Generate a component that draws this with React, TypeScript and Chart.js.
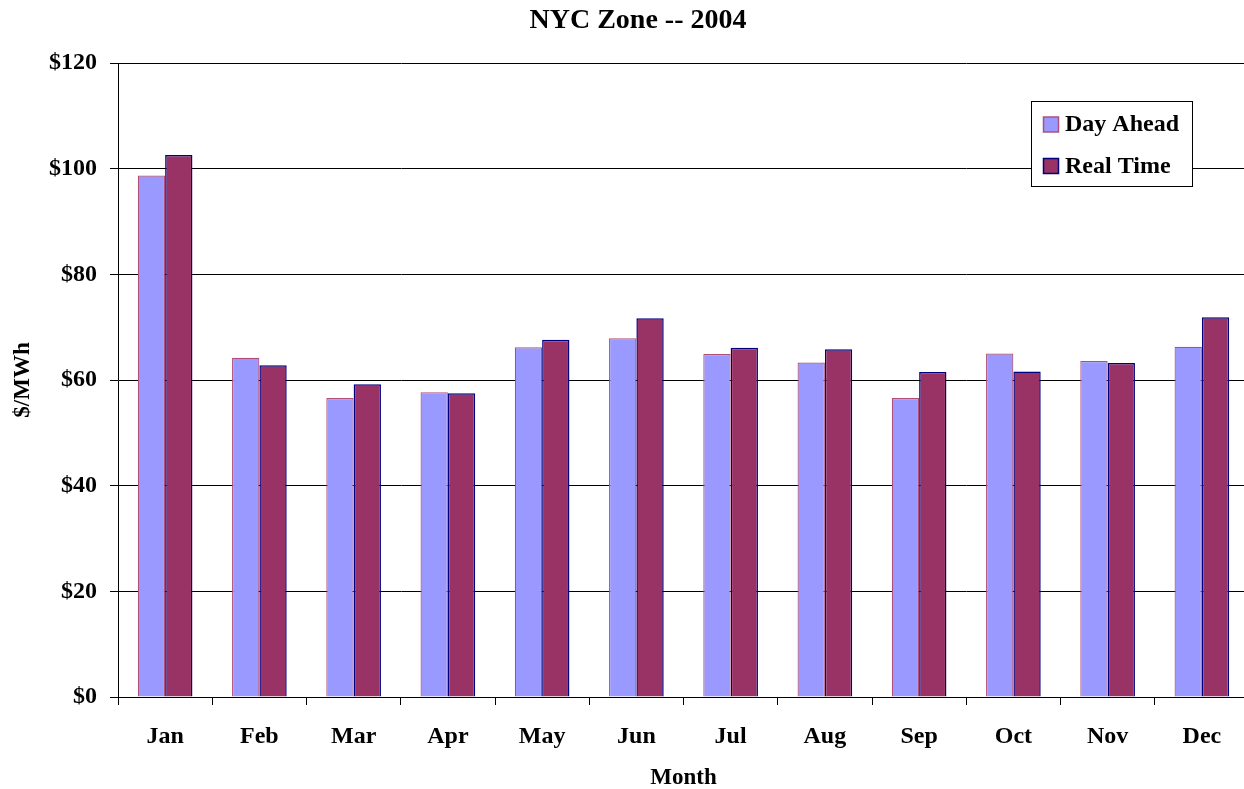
import React, { useEffect, useRef } from "react";
import { Chart, registerables } from "chart.js";

Chart.register(...registerables);

const months = ["Jan", "Feb", "Mar", "Apr", "May", "Jun", "Jul", "Aug", "Sep", "Oct", "Nov", "Dec"];
const dayAhead = [98.7, 64.2, 56.6, 57.7, 66.2, 67.9, 64.9, 63.3, 56.6, 65.0, 63.6, 66.3];
const realTime = [102.6, 62.8, 59.2, 57.5, 67.6, 71.7, 66.1, 65.8, 61.5, 61.6, 63.2, 71.9];
const seriesLabels = ["Day Ahead", "Real Time"];
const chartTitle = "NYC Zone -- 2004";
const xTitle = "Month";
const yTitle = "$/MWh";

const FONT = '"Liberation Serif", "Times New Roman", serif';

const titleAndLegend = {
  id: "titleAndLegend",
  afterDraw(chart: any) {
    const ctx = chart.ctx;
    ctx.save();
    // title
    ctx.fillStyle = "#000";
    ctx.font = `bold 28px ${FONT}`;
    ctx.textAlign = "center";
    ctx.textBaseline = "middle";
    ctx.fillText(chartTitle, 638, 21);
    // legend
    const x0 = 1031.5, y0 = 101.5, w = 161, h = 85;
    ctx.fillStyle = "#ffffff";
    ctx.fillRect(x0, y0, w, h);
    ctx.strokeStyle = "#000000";
    ctx.lineWidth = 1;
    ctx.strokeRect(x0, y0, w, h);
    const rows = [125, 166.5];
    chart.data.datasets.forEach((ds: any, i: number) => {
      const cy = rows[i];
      ctx.fillStyle = ds.backgroundColor;
      ctx.fillRect(1043.5, cy - 8, 15, 15);
      ctx.strokeStyle = ds.borderColor;
      ctx.lineWidth = 1.5;
      ctx.strokeRect(1043.5, cy - 8, 15, 15);
      ctx.fillStyle = "#000";
      ctx.font = `bold 24px ${FONT}`;
      ctx.textBaseline = "middle";
      ctx.textAlign = "left";
      ctx.fillText(ds.label, 1065, cy);
    });
    ctx.restore();
  },
};

export default function App() {
  const ref = useRef<HTMLCanvasElement>(null);
  useEffect(() => {
    if (!ref.current) return;
    const chart = new Chart(ref.current, {
      type: "bar",
      data: {
        labels: months,
        datasets: [
          {
            label: seriesLabels[0],
            data: dayAhead,
            backgroundColor: "#9999FF",
            borderColor: "#B0507A",
            borderWidth: 1.2,
            categoryPercentage: 0.58,
            barPercentage: 1,
          },
          {
            label: seriesLabels[1],
            data: realTime,
            backgroundColor: "#993366",
            borderColor: "#000080",
            borderWidth: 1.5,
            categoryPercentage: 0.58,
            barPercentage: 1,
          },
        ],
      },
      options: {
        responsive: false,
        animation: false,
        layout: { padding: { top: 63, left: 0, right: 0, bottom: 0 } },
        plugins: {
          legend: { display: false },
          tooltip: { enabled: false },
          title: { display: false },
        },
        scales: {
          x: {
            afterFit: (s: any) => { s.height = 92; },
            grid: {
              drawOnChartArea: false,
              drawTicks: true,
              tickLength: 8,
              color: "#000",
              offset: true,
            },
            border: { display: true, color: "#000", width: 1 },
            ticks: {
              color: "#000",
              padding: 17,
              font: { family: FONT, size: 24, weight: "bold", lineHeight: 1.2 },
            },
            title: {
              display: true,
              text: xTitle,
              color: "#000",
              font: { family: FONT, size: 23, weight: "bold", lineHeight: 1.2 },
              padding: { top: 0, bottom: -3 },
            },
          },
          y: {
            min: 0,
            max: 120,
            afterFit: (s: any) => { s.width = 118; },
            grid: {
              color: "#000",
              lineWidth: 1,
              drawTicks: true,
              tickLength: 8,
            },
            border: { display: true, color: "#000", width: 1 },
            ticks: {
              stepSize: 20,
              color: "#000",
              padding: 13,
              font: { family: FONT, size: 24, weight: "bold", lineHeight: 1.2 },
              callback: (v: any) => "$" + v,
            },
            title: {
              display: true,
              text: yTitle,
              color: "#000",
              font: { family: FONT, size: 23, weight: "bold", lineHeight: 1.2 },
              padding: { top: 9, bottom: 0 },
            },
          },
        },
      },
      plugins: [titleAndLegend],
    });
    return () => chart.destroy();
  }, []);
  return (
    <div style={{ position: "fixed", left: 0, top: 0, width: 1244, height: 789, overflow: "hidden", background: "#fff" }}>
      <canvas ref={ref} width={1249} height={789} style={{ width: 1249, height: 789, display: "block" }} />
    </div>
  );
}
